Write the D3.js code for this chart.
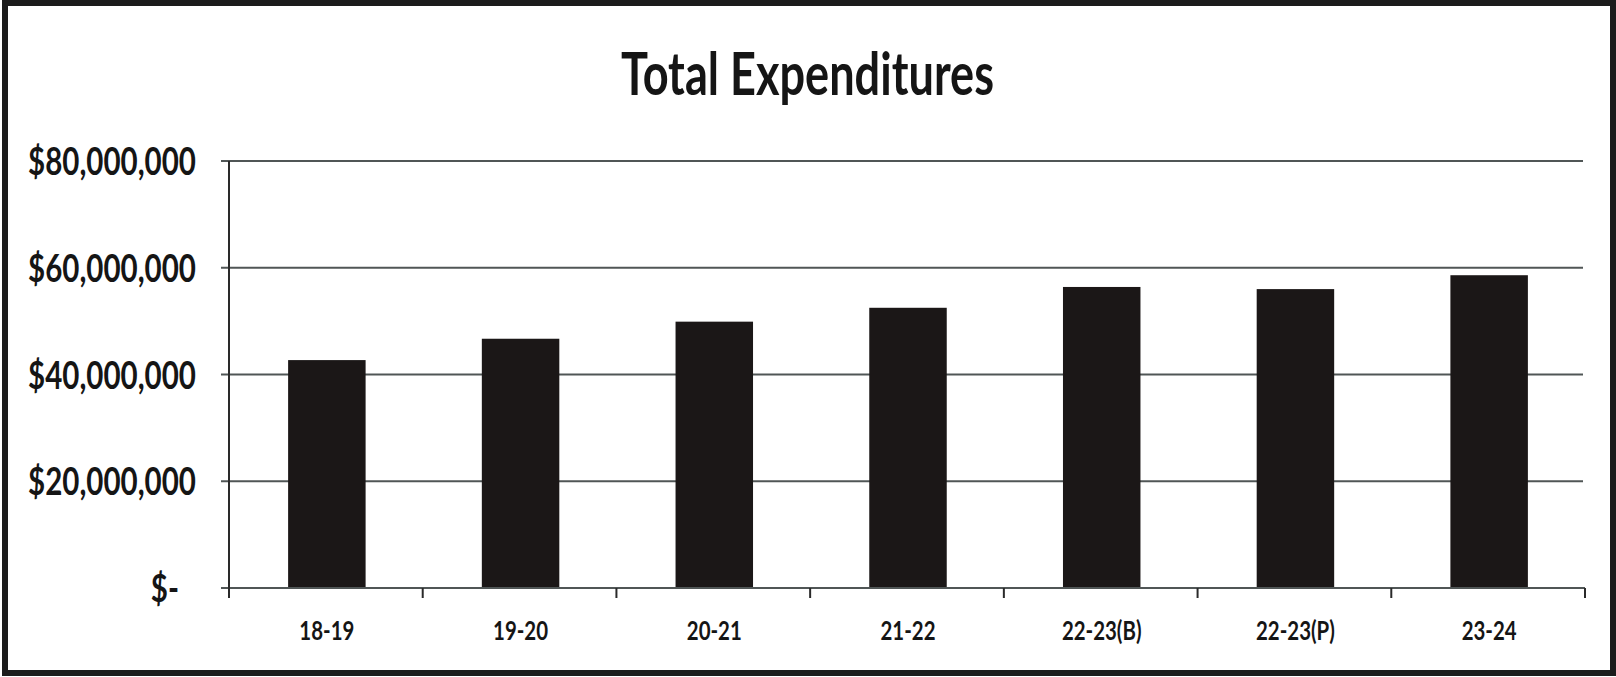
<!DOCTYPE html>
<html>
<head>
<meta charset="utf-8">
<script src="https://cdn.jsdelivr.net/npm/d3@7"></script>
<style>
  html, body { margin: 0; padding: 0; background: #ffffff; }
  svg { display: block; }
</style>
</head>
<body>
<svg id="chart" width="1616" height="677"></svg>
<script>
// ---- data ----
const title = "Total Expenditures";
const categories = ["18-19", "19-20", "20-21", "21-22", "22-23(B)", "22-23(P)", "23-24"];
const expenditures = [42700000, 46700000, 49900000, 52500000, 56400000, 56000000, 58600000];
const yTicks = [0, 20000000, 40000000, 60000000, 80000000];
const yTickLabels = ["$-", "$20,000,000", "$40,000,000", "$60,000,000", "$80,000,000"];

// ---- layout ----
const W = 1616, H = 677;
const plot = { left: 229, right: 1585, top: 161, bottom: 588 };
const svg = d3.select("#chart");
const FONT = "Lato, 'Open Sans', 'DejaVu Sans', sans-serif";

// frame
svg.append("rect").attr("x", 0).attr("y", 0).attr("width", W).attr("height", H).attr("fill", "#ffffff");
svg.append("rect").attr("x", 5).attr("y", 3).attr("width", W - 8).attr("height", H - 7)
  .attr("fill", "none").attr("stroke", "#1c1c1c").attr("stroke-width", 6);

const x = d3.scaleBand().domain(categories).range([plot.left, plot.right]).paddingInner(0).paddingOuter(0);
const y = d3.scaleLinear().domain([0, 80000000]).range([plot.bottom, plot.top]);
const barFrac = 0.40;

// gridlines (with small left ticks)
svg.append("g").selectAll("line").data(yTicks.filter(d => d > 0)).join("line")
  .attr("x1", plot.left - 8).attr("x2", plot.right - 2)
  .attr("y1", d => y(d)).attr("y2", d => y(d))
  .attr("stroke", "#505656").attr("stroke-width", 2);

// bars
svg.append("g").selectAll("rect").data(categories).join("rect")
  .attr("x", (c) => x(c) + x.bandwidth() * (1 - barFrac) / 2 + 1)
  .attr("width", x.bandwidth() * barFrac)
  .attr("y", (c, i) => y(expenditures[i]))
  .attr("height", (c, i) => y(0) - y(expenditures[i]))
  .attr("fill", "#1b1717");

// x axis line + ticks at category boundaries
svg.append("line").attr("x1", plot.left - 8).attr("x2", plot.right)
  .attr("y1", y(0)).attr("y2", y(0)).attr("stroke", "#505656").attr("stroke-width", 2);
const boundaries = categories.map(c => x(c)).concat([x(categories[categories.length - 1]) + x.bandwidth()]);
svg.append("g").selectAll("line").data(boundaries).join("line")
  .attr("x1", d => d).attr("x2", d => d)
  .attr("y1", y(0)).attr("y2", y(0) + 10)
  .attr("stroke", "#2a2a2a").attr("stroke-width", 2);

// y axis line
svg.append("line").attr("x1", plot.left).attr("x2", plot.left)
  .attr("y1", y(80000000)).attr("y2", y(0) + 10)
  .attr("stroke", "#2a2a2a").attr("stroke-width", 2);

// helper: compress text horizontally to mimic the condensed look
function squeeze(sel, factor) {
  sel.each(function() {
    const len = this.getComputedTextLength();
    d3.select(this).attr("textLength", len * factor).attr("lengthAdjust", "spacingAndGlyphs");
  });
}

// title
const t = svg.append("text").text(title)
  .attr("x", 807.5).attr("y", 95)
  .attr("text-anchor", "middle")
  .attr("font-family", FONT).attr("font-weight", 700).attr("font-size", 59)
  .attr("fill", "#151515");
t.attr("textLength", 373).attr("lengthAdjust", "spacingAndGlyphs");

// y labels
const yl = svg.append("g").selectAll("text").data(yTicks).join("text")
  .text((d, i) => yTickLabels[i])
  .attr("x", d => d === 0 ? 179 : 196)
  .attr("y", d => y(d) + 14)
  .attr("text-anchor", "end")
  .attr("font-family", FONT).attr("font-weight", 700).attr("font-size", 39)
  .attr("fill", "#151515");
{
  const ref = yl.filter(d => d === 80000000).node().getComputedTextLength();
  squeeze(yl, 168 / ref);
}

// x labels
const xl = svg.append("g").selectAll("text").data(categories).join("text")
  .text(d => d)
  .attr("x", d => x(d) + x.bandwidth() / 2 + 1)
  .attr("y", 640)
  .attr("text-anchor", "middle")
  .attr("font-family", FONT).attr("font-weight", 700).attr("font-size", 26)
  .attr("fill", "#151515");
{
  const ref = xl.filter(d => d === "18-19").node().getComputedTextLength();
  squeeze(xl, 55 / ref);
}
</script>
</body>
</html>
